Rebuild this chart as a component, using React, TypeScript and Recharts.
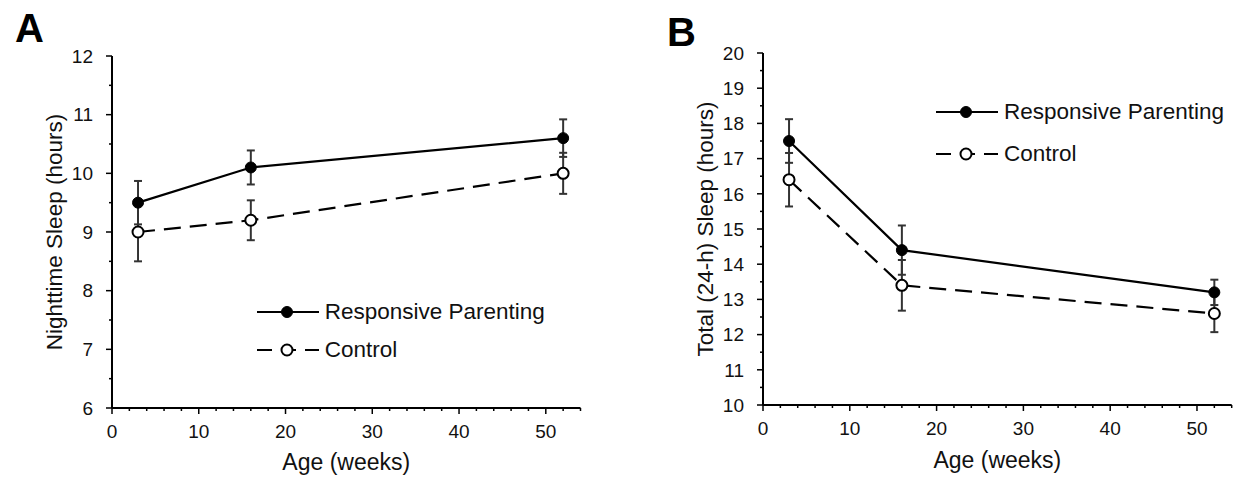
import React from "react";
import { LineChart, Line, XAxis, YAxis, ErrorBar, Legend } from "recharts";

// ages at which sleep was measured (weeks)
const weeks = [3, 16, 52];

// panel A: nighttime sleep (hours), mean and error
const rpNight = [9.5, 10.1, 10.6];
const rpNightErr = [0.37, 0.29, 0.32];
const ctlNight = [9.0, 9.2, 10.0];
const ctlNightErr = [0.5, 0.34, 0.35];

// panel B: total 24-h sleep (hours), mean and error
const rpTotal = [17.5, 14.4, 13.2];
const rpTotalErr = [0.62, 0.7, 0.36];
const ctlTotal = [16.4, 13.4, 12.6];
const ctlTotalErr = [0.76, 0.72, 0.53];

const seriesNames = ["Responsive Parenting", "Control"];

const xTicks = [0, 2, 4, 6, 8, 10, 12, 14, 16, 18, 20, 22, 24, 26, 28, 30, 32, 34, 36, 38, 40, 42, 44, 46, 48, 50, 52, 54];
const nightTicks = [6, 6.5, 7, 7.5, 8, 8.5, 9, 9.5, 10, 10.5, 11, 11.5, 12];
const totalTicks = [10, 10.5, 11, 11.5, 12, 12.5, 13, 13.5, 14, 14.5, 15, 15.5, 16, 16.5, 17, 17.5, 18, 18.5, 19, 19.5, 20];

const nightData = weeks.map((w, i) => ({
  week: w, rp: rpNight[i], rpErr: rpNightErr[i], ctl: ctlNight[i], ctlErr: ctlNightErr[i],
}));
const totalData = weeks.map((w, i) => ({
  week: w, rp: rpTotal[i], rpErr: rpTotalErr[i], ctl: ctlTotal[i], ctlErr: ctlTotalErr[i],
}));

const FONT = "'Liberation Sans', Arial, sans-serif";
const INK = "#111";
const tickText: React.CSSProperties = { fontSize: 19, fontFamily: FONT, fill: INK };

// y ticks: tickSize 7 + tickMargin 12 => axis sits 19px right of the label anchor
const YTick = (props: any) => {
  const { x, y, payload } = props;
  const major = Number.isInteger(payload.value);
  const ax = x + 19;
  return (
    <g>
      <line x1={ax - (major ? 6 : 3)} x2={ax} y1={y} y2={y} stroke="#000" strokeWidth={1.5} />
      {major && (
        <text x={x} y={y} dy="0.355em" textAnchor="end" fontSize={19} style={tickText}>
          {payload.value}
        </text>
      )}
    </g>
  );
};

// x ticks: tickSize 6 + tickMargin 11
const XTick = (props: any) => {
  const { x, y, payload } = props;
  const major = payload.value % 10 === 0;
  const ay = y - 17;
  return (
    <g>
      <line x1={x} x2={x} y1={ay} y2={ay + (major ? 6 : 3)} stroke="#000" strokeWidth={1.5} />
      {major && (
        <text x={x} y={y} dy="0.71em" textAnchor="middle" fontSize={19} style={tickText}>
          {payload.value}
        </text>
      )}
    </g>
  );
};

function LegendBox({ rowH }: { rowH: number }) {
  return (
    <div>
      {seriesNames.map((n, i) => (
        <div key={n} style={{ display: "flex", alignItems: "center", height: rowH }}>
          <svg width={62} height={14} style={{ overflow: "visible" }}>
            <line x1={0} x2={62} y1={7} y2={7} stroke="#000" strokeWidth={2}
              strokeDasharray={i ? "15 9" : undefined} />
            <circle cx={30} cy={7} r={5.5} fill={i ? "#fff" : "#000"} stroke="#000" strokeWidth={i ? 2 : 1} />
          </svg>
          <span style={{ marginLeft: 6, fontSize: 22.5, color: INK, whiteSpace: "nowrap" }}>{n}</span>
        </div>
      ))}
    </div>
  );
}

interface PanelProps {
  data: any[];
  width: number;
  yDomain: [number, number];
  yTicks: number[];
  yLabel: string;
  margin: { top: number; right: number; left: number; bottom: number };
  xAxisHeight: number;
  xLabelOffset: number;
  legendLeft: number;
  legendTop: number;
  rowH: number;
}

function Panel(p: PanelProps) {
  return (
    <LineChart width={p.width} height={477} data={p.data} margin={p.margin}>
      <XAxis
        type="number" dataKey="week" domain={[0, 54]} ticks={xTicks} interval={0}
        allowDataOverflow height={p.xAxisHeight}
        axisLine={{ stroke: "#000", strokeWidth: 2 }} tickLine={false}
        tickSize={6} tickMargin={11} tick={XTick}
        label={{ value: "Age (weeks)", position: "insideBottom", offset: p.xLabelOffset, fontSize: 23, fill: INK }}
      />
      <YAxis
        type="number" domain={p.yDomain} ticks={p.yTicks} interval={0} allowDataOverflow
        width={116} axisLine={{ stroke: "#000", strokeWidth: 2 }} tickLine={false}
        tickSize={7} tickMargin={12} tick={YTick}
        label={{ value: p.yLabel, angle: -90, position: "center", fontSize: 22.5, fill: INK }}
      />
      <Legend
        layout="horizontal" verticalAlign="middle" align="center"
        wrapperStyle={{ left: p.legendLeft, top: p.legendTop, width: 330 }}
        content={() => <LegendBox rowH={p.rowH} />}
      />
      <Line
        dataKey="rp" name={seriesNames[0]} stroke="#000" strokeWidth={2.2}
        dot={{ r: 5.5, fill: "#000", stroke: "#000", strokeWidth: 1 }}
        activeDot={false} isAnimationActive={false}
      >
        <ErrorBar dataKey="rpErr" direction="y" width={4} stroke="#333" strokeWidth={2} isAnimationActive={false} />
      </Line>
      <Line
        dataKey="ctl" name={seriesNames[1]} stroke="#000" strokeWidth={2.2} strokeDasharray="17 9"
        dot={{ r: 5.5, fill: "#fff", stroke: "#000", strokeWidth: 2, strokeDasharray: "0" }}
        activeDot={false} isAnimationActive={false}
      >
        <ErrorBar dataKey="ctlErr" direction="y" width={4} stroke="#333" strokeWidth={2} isAnimationActive={false} />
      </Line>
    </LineChart>
  );
}

const letterStyle: React.CSSProperties = {
  position: "absolute", fontSize: 40, fontWeight: "bold", lineHeight: "40px", color: "#000",
};

export default function App() {
  return (
    <div style={{
      position: "absolute", left: 0, top: 0, width: 1250, height: 477,
      background: "#fff", fontFamily: FONT, overflow: "hidden",
    }}>
      <div style={{ position: "absolute", left: -4, top: 0 }}>
        <Panel
          data={nightData} width={624} yDomain={[6, 12]} yTicks={nightTicks}
          yLabel="Nighttime Sleep (hours)"
          margin={{ top: 56, right: 39.5, left: 0, bottom: 0 }}
          xAxisHeight={69} xLabelOffset={7}
          legendLeft={260.7} legendTop={293} rowH={38}
        />
      </div>
      <div style={{ position: "absolute", left: 620, top: 0 }}>
        <Panel
          data={totalData} width={630} yDomain={[10, 20]} yTicks={totalTicks}
          yLabel="Total (24-h) Sleep (hours)"
          margin={{ top: 53, right: 18.3, left: 27, bottom: 0 }}
          xAxisHeight={72} xLabelOffset={9}
          legendLeft={316} legendTop={91} rowH={42}
        />
      </div>
      <div style={{ ...letterStyle, left: 15, top: 8 }}>A</div>
      <div style={{ ...letterStyle, left: 667, top: 12 }}>B</div>
    </div>
  );
}
